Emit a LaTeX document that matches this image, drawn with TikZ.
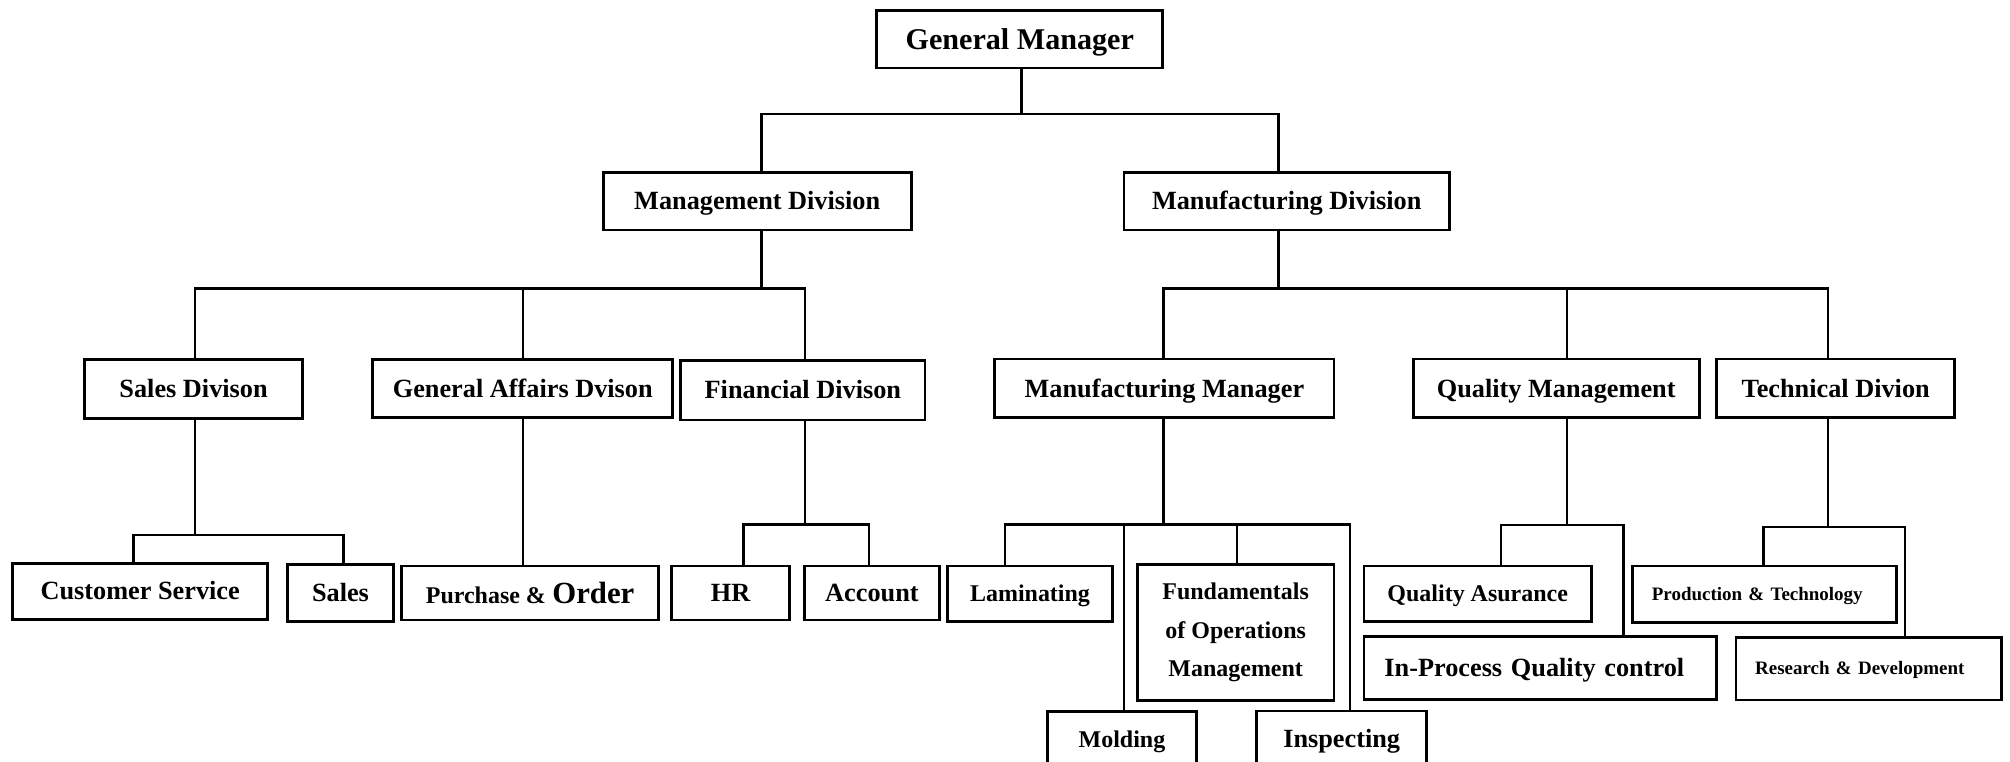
\documentclass[tikz,border=0pt]{standalone}
\usepackage{fontspec}
\setmainfont{Liberation Serif}
\tikzset{
  box/.style={draw, line width=2.2pt, inner sep=0pt, fill=white},
  ftw/.style={font=\bfseries\fontsize{20.5}{24}\selectfont, text height=14.3pt, text depth=0.8pt},
  ftl/.style={font=\bfseries\fontsize{23.5}{28}\selectfont, text height=16.4pt, text depth=0.9pt},
  fte/.style={font=\bfseries\fontsize{18.7}{29.9}\selectfont, text height=13.1pt, text depth=0.75pt},
  ftm/.style={font=\bfseries\fontsize{18.7}{29.9}\selectfont},
  fts/.style={font=\bfseries\fontsize{14.8}{18}\selectfont, text height=10.4pt, text depth=0.6pt},
  link/.style={line width=1.9pt, line join=miter},
}
\begin{document}
\begin{tikzpicture}[x=1pt, y=-1pt]
\useasboundingbox (0,0) rectangle (1568,594);
\fill[white] (0,0) rectangle (1568,594);

% boxes
\node[box, ftl, minimum width=223pt, minimum height=45pt] (gm) at (795.5,30.5) {General Manager};
\node[box, ftw, minimum width=240.2pt, minimum height=45pt] (mgmt) at (590.7,156.9) {Management Division};
\node[box, ftw, minimum width=253.9pt, minimum height=45pt] (mfg) at (1003.75,156.9) {Manufacturing Division};

\node[box, ftw, minimum width=170pt, minimum height=46.1pt] (sd) at (151,303.35) {Sales Divison};
\node[box, ftw, minimum width=234pt, minimum height=45.5pt] (ga) at (407.8,303.25) {General Affairs Dvison};
\node[box, ftw, minimum width=190.6pt, minimum height=46.2pt] (fin) at (626.3,304.5) {Financial Divison};
\node[box, ftw, minimum width=264.7pt, minimum height=46pt] (mm) at (908.35,303) {Manufacturing Manager};
\node[box, ftw, minimum width=223pt, minimum height=46pt] (qm) at (1214,303) {Quality Management};
\node[box, ftw, minimum width=186pt, minimum height=46pt] (td) at (1432,303) {Technical Divion};

\node[box, ftw, minimum width=198.9pt, minimum height=43.6pt] (cs) at (109.35,461.3) {Customer Service};
\node[box, ftw, minimum width=82.4pt, minimum height=44.8pt] (sl) at (265.6,462.6) {Sales};
\node[box, font=\bfseries\fontsize{18.7}{24}\selectfont, text height=16.4pt, text depth=0.8pt,
      minimum width=200.3pt, minimum height=42.2pt] (po) at (413.55,462.6)
      {Purchase \&\hspace{5pt}{\fontsize{24}{28}\selectfont Order}};
\node[box, ftw, minimum width=92.2pt, minimum height=42.2pt] (hr) at (569.9,462.6) {HR};
\node[box, ftw, minimum width=105.2pt, minimum height=42.2pt] (acc) at (680.2,462.6) {Account};
\node[box, fte, minimum width=129pt, minimum height=43.5pt] (lam) at (803.5,463.25) {Laminating};
\node[box, ftm, align=center, minimum width=153.5pt, minimum height=105.9pt] (fund) at (963.95,493.35)
      {Fundamentals\\of Operations\\Management};
\node[box, fte, minimum width=116.5pt, minimum height=44pt] (mold) at (875.25,577) {Molding};
\node[box, ftw, minimum width=132.7pt, minimum height=44pt] (insp) at (1046.65,576.6) {Inspecting};
\node[box, fte, minimum width=177.5pt, minimum height=43.5pt] (qa) at (1152.75,463.25) {Quality Asurance};
\node[box, ftw, align=left, text width=243pt, minimum width=275pt, minimum height=48.8pt] (ipqc) at (1201.5,521.1)
      {In-Process Quality control};
\node[box, fts, align=left, text width=176pt, minimum width=206pt, minimum height=44pt] (pt) at (1376.6,463.5)
      {Production \& Technology};
\node[box, fts, align=left, text width=177.3pt, minimum width=207.3pt, minimum height=48.8pt] (rd) at (1457.85,521.6)
      {Research \& Development};

% junction coordinates
\coordinate (k0) at (797,89);
\coordinate (k0l) at (594,89);
\coordinate (k0r) at (997.5,89);
\coordinate (k1) at (594,225);
\coordinate (k1l) at (152,225);
\coordinate (k1m) at (407.8,225);
\coordinate (k1r) at (628,225);
\coordinate (k2) at (997.5,225);
\coordinate (k2l) at (907.5,225);
\coordinate (k2m) at (1222.5,225);
\coordinate (k2r) at (1426,225);
\coordinate (k3) at (152,417.4);
\coordinate (k3l) at (104,417.4);
\coordinate (k3r) at (268,417.4);
\coordinate (k4) at (628,409);
\coordinate (k4l) at (580,409);
\coordinate (k4r) at (678,409);
\coordinate (k5) at (907.5,409);
\coordinate (k5a) at (784,409);
\coordinate (k5b) at (877,409);
\coordinate (k5c) at (965,409);
\coordinate (k5d) at (1053,409);
\coordinate (k6) at (1222.5,409.5);
\coordinate (k6l) at (1171,409.5);
\coordinate (k6r) at (1266.5,409.5);
\coordinate (k7) at (1426,411);
\coordinate (k7l) at (1375.6,411);
\coordinate (k7r) at (1486,411);

% level 1
\draw[link] (gm.south -| k0) -- (k0);
\draw[link] (mgmt.north -| k0l) -- (k0l) -- (k0r) -- (mfg.north -| k0r);
% level 2
\draw[link] (mgmt.south -| k1) -- (k1);
\draw[link] (sd.north -| k1l) -- (k1l) -- (k1r) -- (fin.north -| k1r);
\draw[link] (k1m) -- (ga.north -| k1m);
\draw[link] (mfg.south -| k2) -- (k2);
\draw[link] (mm.north -| k2l) -- (k2l) -- (k2r) -- (td.north -| k2r);
\draw[link] (k2m) -- (qm.north -| k2m);
% level 3
\draw[link] (sd.south -| k3) -- (k3);
\draw[link] (cs.north -| k3l) -- (k3l) -- (k3r) -- (sl.north -| k3r);
\draw[link] (ga.south -| k1m) -- (po.north -| k1m);
\draw[link] (fin.south -| k4) -- (k4);
\draw[link] (hr.north -| k4l) -- (k4l) -- (k4r) -- (acc.north -| k4r);
\draw[link] (mm.south -| k5) -- (k5);
\draw[link] (lam.north -| k5a) -- (k5a) -- (k5d) -- (insp.north -| k5d);
\draw[link] (k5b) -- (mold.north -| k5b);
\draw[link] (k5c) -- (fund.north -| k5c);
\draw[link] (qm.south -| k6) -- (k6);
\draw[link] (qa.north -| k6l) -- (k6l) -- (k6r) -- (ipqc.north -| k6r);
\draw[link] (td.south -| k7) -- (k7);
\draw[link] (pt.north -| k7l) -- (k7l) -- (k7r) -- (rd.north -| k7r);
\end{tikzpicture}
\end{document}
